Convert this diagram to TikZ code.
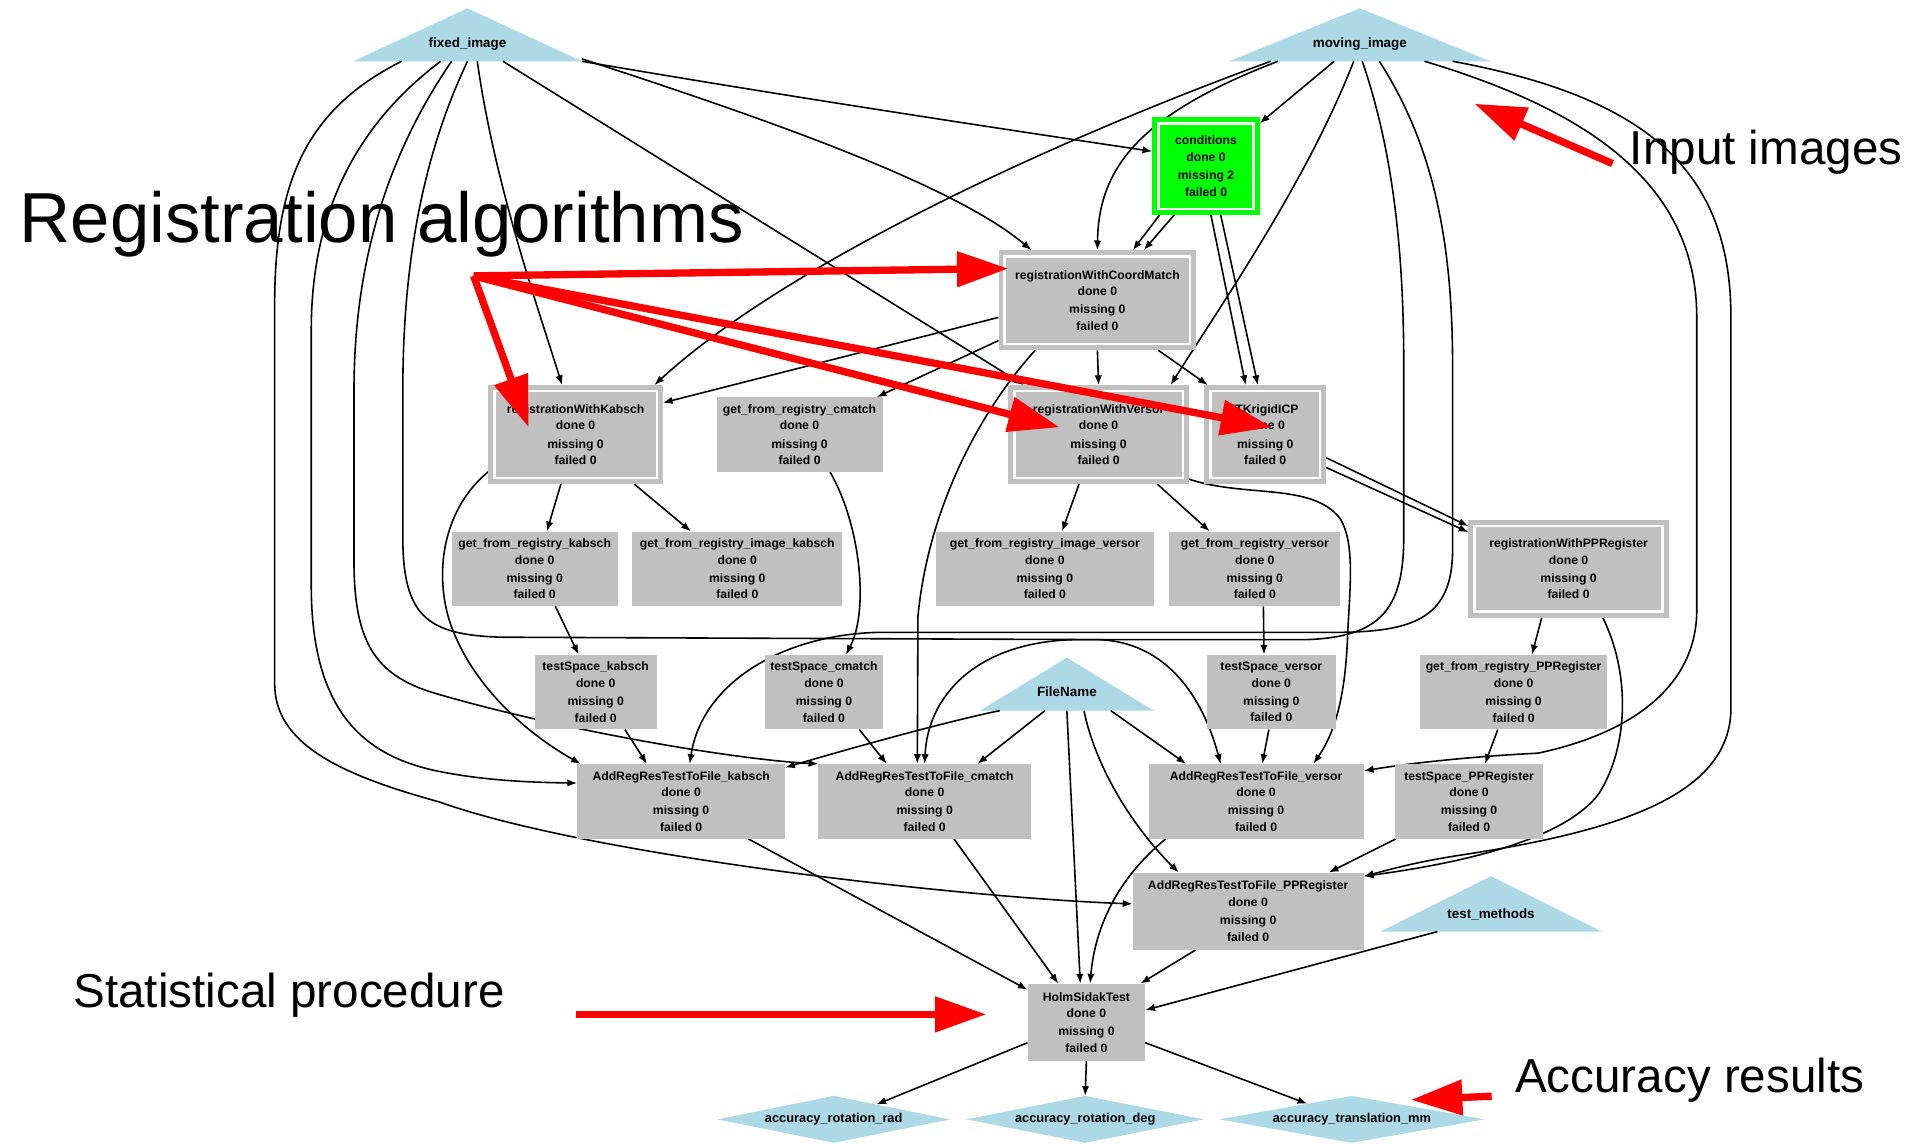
\documentclass[tikz,border=0pt]{standalone}
\usepackage{fontspec}
\setmainfont{Liberation Sans}
\usetikzlibrary{arrows.meta}
\pgfdeclarelayer{bg}
\pgfdeclarelayer{edges}
\pgfsetlayers{bg,edges,main}
\definecolor{boxgray}{RGB}{192,192,192}
\definecolor{lblue}{RGB}{173,216,230}
\definecolor{brightgreen}{RGB}{0,255,0}
\definecolor{redarr}{RGB}{255,0,0}
\tikzset{
 graybox/.style={rectangle, fill=boxgray, inner sep=0pt, font=\fontsize{10}{13.5}\selectfont\bfseries, align=center},
 dblbox/.style={graybox, draw=boxgray, line width=4pt, double=white, double distance=2pt, outer sep=5pt},
 greenbox/.style={dblbox, fill=brightgreen, draw=brightgreen},
 trinode/.style={rectangle, inner sep=0pt, font=\fontsize{11}{13}\selectfont\bfseries},
 dianode/.style={rectangle, inner sep=0pt, minimum height=38pt, font=\fontsize{10.5}{12}\selectfont\bfseries},
 edg/.style={draw=black, line width=1.3pt, -{Latex[length=8pt,width=6pt]}},
 redarrow/.style={draw=redarr, line width=6pt, -{Triangle[length=42pt,width=28pt]}},
 callout/.style={anchor=base west, inner sep=0pt, text=black},
}
\newcommand{\stat}[2]{#1\\done 0\\[1.5pt]missing #2\\failed 0}
\begin{document}
\begin{tikzpicture}[x=1pt,y=-1pt]
\useasboundingbox (0,0) rectangle (1568,937);
\begin{pgfonlayer}{bg}
\fill[white] (0,0) rectangle (1568,937);
\end{pgfonlayer}

% ---------- nodes ----------
\node[trinode, minimum width=187pt, minimum height=28pt] (fixed) at (383,36) {fixed\_image};
\node[trinode, minimum width=214pt, minimum height=28pt] (moving) at (1114,36) {moving\_image};
\node[greenbox, minimum width=78pt, minimum height=70pt] (cond) at (988,136) {\stat{conditions}{2}};
\node[dblbox, minimum width=152pt, minimum height=72pt] (cm) at (899,246) {\stat{registrationWithCoordMatch}{0}};
\node[dblbox, minimum width=133pt, minimum height=71pt] (kab) at (471.5,356) {\stat{registrationWithKabsch}{0}};
\node[graybox, minimum width=136pt, minimum height=61pt] (gcm) at (655,356) {\stat{get\_from\_registry\_cmatch}{0}};
\node[dblbox, minimum width=138pt, minimum height=71pt] (ver) at (900,356) {\stat{registrationWithVersor}{0}};
\node[dblbox, minimum width=90pt, minimum height=71pt] (icp) at (1036.5,356) {\stat{ITKrigidICP}{0}};
\node[dblbox, minimum width=154pt, minimum height=70pt] (pp) at (1285,466) {\stat{registrationWithPPRegister}{0}};
\node[graybox, minimum width=136pt, minimum height=61pt] (gk) at (438,466) {\stat{get\_from\_registry\_kabsch}{0}};
\node[graybox, minimum width=172pt, minimum height=61pt] (gik) at (604,466) {\stat{get\_from\_registry\_image\_kabsch}{0}};
\node[graybox, minimum width=178pt, minimum height=61pt] (giv) at (856,466) {\stat{get\_from\_registry\_image\_versor}{0}};
\node[graybox, minimum width=140pt, minimum height=61pt] (gv) at (1028,466) {\stat{get\_from\_registry\_versor}{0}};
\node[graybox, minimum width=100pt, minimum height=61pt] (tk) at (488,567) {\stat{testSpace\_kabsch}{0}};
\node[graybox, minimum width=96pt, minimum height=61pt] (tcm) at (675,567) {\stat{testSpace\_cmatch}{0}};
\node[trinode, minimum width=142pt, minimum height=30pt] (fname) at (874,567) {FileName};
\node[graybox, minimum width=106pt, minimum height=61pt] (tv) at (1041.5,567) {\stat{testSpace\_versor}{0}};
\node[graybox, minimum width=153pt, minimum height=61pt] (gpp) at (1240,567) {\stat{get\_from\_registry\_PPRegister}{0}};
\node[graybox, minimum width=170pt, minimum height=61pt] (ak) at (558,656.5) {\stat{AddRegResTestToFile\_kabsch}{0}};
\node[graybox, minimum width=174pt, minimum height=61pt] (acm) at (757.5,656.5) {\stat{AddRegResTestToFile\_cmatch}{0}};
\node[graybox, minimum width=176pt, minimum height=61pt] (av) at (1029,656.5) {\stat{AddRegResTestToFile\_versor}{0}};
\node[graybox, minimum width=121pt, minimum height=61pt] (tpp) at (1203.5,656.5) {\stat{testSpace\_PPRegister}{0}};
\node[graybox, minimum width=189pt, minimum height=63pt] (app) at (1022.5,746.5) {\stat{AddRegResTestToFile\_PPRegister}{0}};
\node[trinode, minimum width=181pt, minimum height=28pt] (tmeth) at (1221.5,749) {test\_methods};
\node[graybox, minimum width=96pt, minimum height=63pt] (holm) at (890,837.5) {\stat{HolmSidakTest}{0}};
\node[dianode, minimum width=190pt] (arad) at (683,917) {accuracy\_rotation\_rad};
\node[dianode, minimum width=194pt] (adeg) at (889,917) {accuracy\_rotation\_deg};
\node[dianode, minimum width=217pt] (amm) at (1107.5,917) {accuracy\_translation\_mm};

% ---------- shape fills ----------
\begin{pgfonlayer}{bg}
\fill[lblue] (fixed.south west) -- ([yshift=15pt]fixed.north) -- (fixed.south east) -- cycle;
\fill[lblue] (moving.south west) -- ([yshift=15pt]moving.north) -- (moving.south east) -- cycle;
\fill[lblue] (fname.south west) -- ([yshift=13pt]fname.north) -- (fname.south east) -- cycle;
\fill[lblue] (tmeth.south west) -- ([yshift=17pt]tmeth.north) -- (tmeth.south east) -- cycle;
\fill[lblue] (arad.west) -- (arad.north) -- (arad.east) -- (arad.south) -- cycle;
\fill[lblue] (adeg.west) -- (adeg.north) -- (adeg.east) -- (adeg.south) -- cycle;
\fill[lblue] (amm.west) -- (amm.north) -- (amm.east) -- (amm.south) -- cycle;
\end{pgfonlayer}

% ---------- connectors ----------
\begin{pgfonlayer}{edges}
% fixed_image
\draw[edg] ([xshift=-54pt]fixed.south) .. controls (250,90) and (225,150) .. (225,250) -- (225,560) .. controls (225,610) and (280,635) .. (360,657) .. controls (480,700) and (780,735) .. ([yshift=6pt]app.west);
\draw[edg] ([xshift=-22pt]fixed.south) .. controls (295,100) and (255,170) .. (255,270) -- (255,480) .. controls (255,585) and (300,620) .. (360,632) .. controls (400,640) and (440,641) .. ([yshift=15pt]ak.west);
\draw[edg] ([xshift=-13pt]fixed.south) .. controls (315,130) and (290,220) .. (290,320) -- (290,460) .. controls (290,530) and (310,555) .. (360,569) .. controls (460,598) and (600,622) .. (acm.north west);
\draw[edg] (fixed.south) .. controls (345,130) and (330,220) .. (330,320) -- (330,440) .. controls (330,505) and (350,520) .. (410,522) -- (900,524) .. controls (955,526) and (985,570) .. ([xshift=-29pt]av.north);
\draw[edg] ([xshift=8pt]fixed.south) .. controls (405,150) and (440,250) .. ([xshift=-11pt]kab.north);
\draw[edg] ([xshift=29pt]fixed.south) -- ([xshift=13pt]ver.north west);
\draw[edg] (fixed.south east) .. controls (650,80) and (850,110) .. ([yshift=12pt]cond.west);
\draw[edg] ([yshift=2pt]fixed.south east) .. controls (620,95) and (780,150) .. ([xshift=27pt]cm.north west);
% moving_image
\draw[edg] ([xshift=-73pt]moving.south) .. controls (850,120) and (640,220) .. ([xshift=-7pt]kab.north east);
\draw[edg] ([xshift=-67pt]moving.south) .. controls (930,95) and (900,140) .. (cm.north);
\draw[edg] ([xshift=-21pt]moving.south) -- ([yshift=-5pt]cond.north east);
\draw[edg] ([xshift=-5pt]moving.south) .. controls (1070,150) and (1000,250) .. ([xshift=-15pt]ver.north east);
\draw[edg] ([xshift=2pt]moving.south) .. controls (1140,120) and (1150,200) .. (1150,300) -- (1150,440) .. controls (1150,500) and (1130,522) .. (1070,524) -- (880,524) .. controls (800,526) and (760,570) .. (acm.north);
\draw[edg] ([xshift=16pt]moving.south) .. controls (1175,120) and (1190,200) .. (1190,300) -- (1190,450) .. controls (1190,505) and (1160,517) .. (1100,518) -- (720,518) .. controls (640,520) and (575,560) .. ([xshift=7pt]ak.north);
\draw[edg] ([xshift=53pt]moving.south) .. controls (1300,90) and (1390,150) .. (1390,260) -- (1390,500) .. controls (1390,560) and (1340,600) .. (1260,617) .. controls (1200,620) and (1150,626) .. ([yshift=25pt]av.east);
\draw[edg] ([xshift=76pt]moving.south) .. controls (1350,80) and (1418,140) .. (1418,260) -- (1418,580) .. controls (1418,650) and (1330,680) .. (1200,700) .. controls (1160,706) and (1140,712) .. ([yshift=-3pt]app.north east);
% conditions
\draw[edg] ([xshift=-38pt]cond.south) -- ([xshift=29pt]cm.north);
\draw[edg] ([xshift=-26pt]cond.south) -- ([xshift=38pt]cm.north);
\draw[edg] ([xshift=4pt]cond.south) -- ([xshift=-16pt]icp.north);
\draw[edg] ([xshift=12pt]cond.south) -- ([xshift=-6pt]icp.north);
% registrationWithCoordMatch
\draw[edg] ([yshift=-14pt]cm.west) -- ([yshift=26pt]kab.east);
\draw[edg] ([yshift=-33pt]cm.west) -- ([xshift=-5pt]gcm.north east);
\draw[edg] (cm.south) -- (ver.north);
\draw[edg] ([xshift=50pt]cm.south) -- ([xshift=3pt]icp.north west);
\draw[edg] ([xshift=-51pt]cm.south) .. controls (800,340) and (760,420) .. (752,505) -- ([xshift=-6pt]acm.north);
% registrationWithKabsch
\draw[edg] ([xshift=-12pt]kab.south) -- ([xshift=10pt]gk.north);
\draw[edg] ([xshift=48pt]kab.south) -- ([xshift=-38pt]gik.north);
\draw[edg] ([yshift=10pt]kab.south west) .. controls (365,415) and (355,465) .. (368,508) .. controls (385,560) and (430,600) .. ([xshift=3pt]ak.north west);
\draw[edg] ([xshift=25pt]gcm.south) .. controls (705,430) and (712,500) .. ([xshift=18pt]tcm.north);
% registrationWithVersor
\draw[edg] ([xshift=-16pt]ver.south) -- ([xshift=14pt]giv.north);
\draw[edg] ([xshift=48pt]ver.south) -- ([xshift=-37pt]gv.north);
\draw[edg] ([yshift=4pt]ver.south east) .. controls (1020,408) and (1075,395) .. (1098,425) .. controls (1110,445) and (1106,480) .. (1104,520) .. controls (1102,580) and (1090,605) .. ([xshift=47pt]av.north);
% ITKrigidICP
\draw[edg] ([yshift=-19pt]icp.east) -- ([yshift=-5pt]pp.north west);
\draw[edg] ([yshift=-27pt]icp.east) -- ([yshift=-10pt]pp.north west);
% registrationWithPPRegister
\draw[edg] ([xshift=-22pt]pp.south) -- ([xshift=15pt]gpp.north);
\draw[edg] ([xshift=28pt]pp.south) .. controls (1335,550) and (1335,610) .. (1310,650) .. controls (1280,690) and (1190,708) .. ([yshift=-3pt]app.north east);
% second level
\draw[edg] ([xshift=17pt]gk.south) -- ([xshift=-14pt]tk.north);
\draw[edg] ([xshift=7pt]gv.south) -- ([xshift=-6pt]tv.north);
\draw[edg] ([xshift=-13pt]gpp.south) -- ([xshift=13pt]tpp.north);
\draw[edg] ([xshift=24pt]tk.south) -- ([xshift=-28pt]ak.north);
\draw[edg] ([xshift=29pt]tcm.south) -- ([xshift=-31pt]acm.north);
\draw[edg] ([xshift=-2pt]tv.south) -- ([xshift=5pt]av.north);
\draw[edg] ([xshift=-60pt]tpp.south) -- ([xshift=66pt]app.north);
% FileName
\draw[edg] ([xshift=-55pt]fname.south) .. controls (780,590) and (700,612) .. ([yshift=-3pt]ak.north east);
\draw[edg] ([xshift=-18pt]fname.south) -- ([xshift=-44pt]acm.north east);
\draw[edg] ([xshift=36pt]fname.south) -- ([xshift=31pt]av.north west);
\draw[edg] ([xshift=14pt]fname.south) .. controls (900,640) and (940,690) .. ([xshift=38pt]app.north west);
\draw[edg] (fname.south) -- ([xshift=-5pt]holm.north);
% into HolmSidakTest
\draw[edg] ([xshift=-74pt]av.south) .. controls (915,720) and (897,760) .. ([xshift=3pt]holm.north);
\draw[edg] ([xshift=-43pt]app.south) -- ([xshift=-4pt]holm.north east);
\draw[edg] ([xshift=55pt]ak.south) -- ([yshift=-5pt]holm.north west);
\draw[edg] ([xshift=24pt]acm.south) -- ([xshift=-23pt]holm.north);
\draw[edg] ([xshift=-44pt]tmeth.south) -- ([yshift=10pt]holm.east);
% outputs
\draw[edg] ([yshift=15pt]holm.south west) -- ([xshift=35pt,yshift=-7pt]arad.north);
\draw[edg] (holm.south) -- (adeg.north);
\draw[edg] ([yshift=15pt]holm.south east) -- ([xshift=-36.5pt,yshift=-6.4pt]amm.north);
\end{pgfonlayer}

% ---------- annotations ----------
\node[callout, font=\fontsize{58}{60}\selectfont] (tregs) at (16,199) {Registration algorithms};
\node[callout, font=\fontsize{39}{42}\selectfont] (tin) at (1335,135) {Input images};
\node[callout, font=\fontsize{39}{42}\selectfont] (tstat) at (60,825) {Statistical procedure};
\node[callout, font=\fontsize{39}{42}\selectfont] (tacc) at (1241,895) {Accuracy results};

\coordinate (regsrc) at (388,226);
\coordinate (tipcm) at (826,220);
\coordinate (tipkab) at (433,350);
\coordinate (tipver) at (868,350);
\coordinate (tipicp) at (1042,350);
\coordinate (insrc) at (1321,134);
\coordinate (intip) at (1208,85);
\coordinate (statsrc) at (472,831);
\coordinate (stattip) at (808,831);
\coordinate (accsrc) at (1222,898);
\coordinate (acctip) at (1156,901);

\draw[redarrow] (regsrc) -- (tipcm);
\draw[redarrow] (regsrc) -- (tipkab);
\draw[redarrow] (regsrc) -- (tipver);
\draw[redarrow] (regsrc) -- (tipicp);
\draw[redarrow] (insrc) -- (intip);
\draw[redarrow] (statsrc) -- (stattip);
\draw[redarrow] (accsrc) -- (acctip);
\end{tikzpicture}
\end{document}
